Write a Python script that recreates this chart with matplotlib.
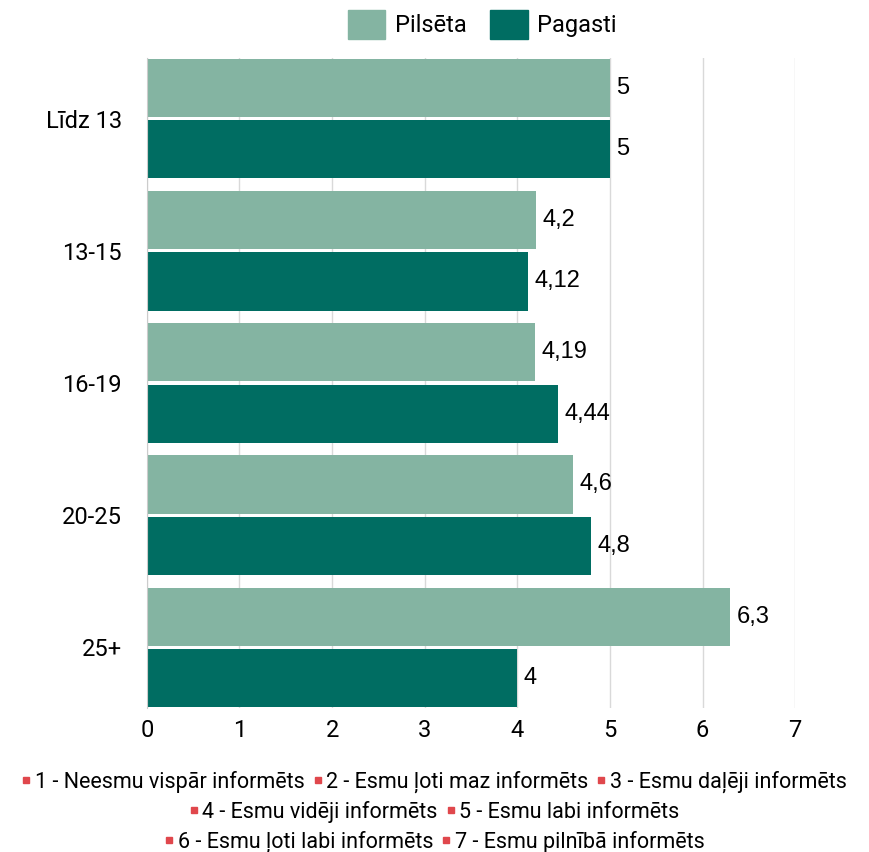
import matplotlib

matplotlib.use("Agg")
import matplotlib.pyplot as plt  # noqa: E402
from matplotlib.lines import Line2D  # noqa: E402
from matplotlib.patches import Patch  # noqa: E402
import numpy as np  # noqa: E402

categories = ["Līdz 13", "13-15", "16-19", "20-25", "25+"]
pilseta = [5, 4.2, 4.19, 4.6, 6.3]
pagasti = [5, 4.12, 4.44, 4.8, 4]
series_names = ["Pilsēta", "Pagasti"]
scale_labels = [
    ["1 - Neesmu vispār informēts", "2 - Esmu ļoti maz informēts", "3 - Esmu daļēji informēts"],
    ["4 - Esmu vidēji informēts", "5 - Esmu labi informēts"],
    ["6 - Esmu ļoti labi informēts", "7 - Esmu pilnībā informēts"],
]

LIGHT = "#84b4a2"
DARK = "#006d62"
RED = "#e0474c"

plt.rcParams["font.family"] = ["Roboto", "DejaVu Sans"]

fig = plt.figure(figsize=(8.69, 8.52), dpi=100)
ax = fig.add_axes([0.169, 0.169, 0.746, 0.763])

y = np.arange(len(categories))
h = 0.44
gap = 0.012
b1 = ax.barh(y - h / 2 - gap, pilseta, height=h, color=LIGHT, zorder=3)
b2 = ax.barh(y + h / 2 + gap, pagasti, height=h, color=DARK, zorder=3)


def fmt(v):
    return f"{v:g}".replace(".", ",")


for bars, vals in ((b1, pilseta), (b2, pagasti)):
    for rect, v in zip(bars, vals):
        ax.text(v + 0.07, rect.get_y() + rect.get_height() / 2, fmt(v),
                va="center", ha="left", fontsize=17, family=["Liberation Sans", "DejaVu Sans"])

ax.set_yticks(y)
ax.set_yticklabels(categories, fontsize=17)
ax.set_ylim(len(categories) - 0.5 - 0.04, -0.5 + 0.04)
ax.set_xlim(0, 7)
ax.set_xticks(range(8))
ax.tick_params(axis="x", labelsize=17, length=0, pad=8)
ax.tick_params(axis="y", length=0, pad=18)
ax.grid(axis="x", color="#d9d9d9", linewidth=1, zorder=0)
for s in ("top", "right", "bottom"):
    ax.spines[s].set_visible(False)
ax.spines["left"].set_color("#cccccc")
ax.spines["left"].set_zorder(4)

handles = [Patch(color=LIGHT), Patch(color=DARK)]
fig.legend(handles, series_names, loc="center", bbox_to_anchor=(0.555, 0.971), ncol=2,
           frameon=False, fontsize=17, handlelength=1.6, handleheight=1.5,
           handletextpad=0.4, columnspacing=1.0)

ys = [0.082, 0.047, 0.012]
for row, yy in zip(scale_labels, ys):
    hs = [Line2D([], [], marker="s", linestyle="none", color=RED, markersize=5) for _ in row]
    fig.legend(hs, row, loc="center", bbox_to_anchor=(0.5, yy), ncol=len(row),
               frameon=False, handlelength=0.4, handletextpad=0.2,
               columnspacing=0.4, prop={"family": ["Roboto", "DejaVu Sans"], "size": 15.5})

fig.savefig("out.png", dpi=100)
